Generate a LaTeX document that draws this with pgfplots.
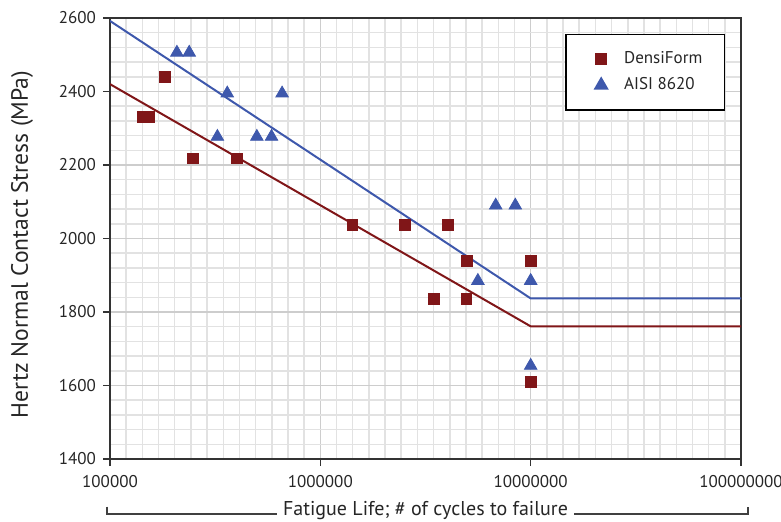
\documentclass[border=0pt]{standalone}
\usepackage{pgfplots}
\pgfplotsset{compat=1.18}
\usepackage{fontspec}
\setmainfont{PT Sans}
\definecolor{densired}{RGB}{128,22,24}
\definecolor{aisiblue}{RGB}{62,88,172}
\definecolor{gridminor}{RGB}{226,226,226}
\definecolor{gridmajor}{RGB}{205,205,205}
\begin{document}
\begin{tikzpicture}
\useasboundingbox (-55pt,-31pt) rectangle (335.5pt,229.5pt);
% background grid (uniform, 13 per decade)
\begin{axis}[scale only axis, width=315.5pt, height=220.5pt,
  xmin=5, xmax=8, ymin=1400, ymax=2600,
  xtick={5,6,7,8}, ytick={1400,1600,...,2600},
  minor x tick num=12, minor y tick num=4,
  grid=both,
  major grid style={draw=gridmajor, line width=0.8pt},
  minor grid style={draw=gridminor, line width=0.75pt},
  xticklabels={}, yticklabels={},
  tick style={draw=none}, axis line style={draw=none}]
\end{axis}
\begin{axis}[scale only axis, width=315.5pt, height=220.5pt,
  xmode=log, xmin=1e5, xmax=1e8, ymin=1400, ymax=2600,
  xminorticks=false, yminorticks=false,
  xtick={1e5,1e6,1e7,1e8},
  xticklabels={100000,1000000,10000000,100000000},
  ytick={1400,1600,...,2600},
  /pgf/number format/assume math mode=true,
  /pgf/number format/1000 sep={},
  tick align=outside, tick pos=left,
  major tick length=3.5pt,
  tick style={color=black!80, line width=0.7pt},
  axis line style={color=black!80, line width=0.8pt},
  ticklabel style={font=\fontsize{8.5}{10}\selectfont, color=black!85},
  xticklabel style={yshift=-1pt},
  ylabel={Hertz Normal Contact Stress (MPa)},
  ylabel style={at={(axis description cs:-0.1395,0.486)}, anchor=center, font=\fontsize{11.8}{13}\selectfont, color=black!85},
  legend style={at={(rel axis cs:0.975,0.964)}, anchor=north east,
    draw=black, line width=0.8pt, fill=white,
    font=\fontsize{8.5}{10}\selectfont,
    inner xsep=9pt, inner ysep=6.5pt, row sep=1.5pt,
    nodes={inner sep=2pt, text=black!85}},
  legend cell align=left,
  legend image code/.code={\path[draw=none, fill=none] (-8.5pt,0pt) -- (9.5pt,0pt);
    \draw[#1] plot coordinates {(0pt,0pt)};},
  ]
% fitted curves
\addplot[densired, line width=1pt, forget plot] coordinates {(1e5,2420) (1e7,1761) (1e8,1761)};
\addplot[aisiblue, line width=1pt, forget plot] coordinates {(1e5,2592) (1e7,1837) (1e8,1837)};
% DensiForm
\addplot[only marks, mark=square*, mark size=2.7pt, mark options={fill=densired, draw=densired}]
 coordinates {
 (143000,2330) (153000,2330) (182000,2440) (247000,2218) (400000,2218)
 (1420000,2036) (2530000,2036) (4040000,2036) (3470000,1835)
 (4980000,1939) (4950000,1835) (1e7,1939) (1e7,1610)};
\addlegendentry{DensiForm}
% AISI 8620
\addplot[only marks, mark=triangle*, mark size=3.6pt, mark options={fill=aisiblue, draw=aisiblue}]
 coordinates {
 (208000,2506) (238000,2506) (361000,2395) (658000,2395)
 (324000,2277) (499000,2277) (586000,2277)
 (6820000,2090) (8450000,2090) (5610000,1885) (1e7,1885) (1e7,1654)};
\addlegendentry{AISI 8620}
\end{axis}
\draw[black!75, line width=0.6pt] (-1.5pt,-23.75pt) -- (-1.5pt,-27.5pt) -- (319pt,-27.5pt) -- (319pt,-23.75pt);
\node[fill=white, inner xsep=3pt, inner ysep=1pt, font=\fontsize{10}{12}\selectfont, text=black!85] at (157.75pt,-26pt) {Fatigue Life; \# of cycles to failure};
\end{tikzpicture}
\end{document}
